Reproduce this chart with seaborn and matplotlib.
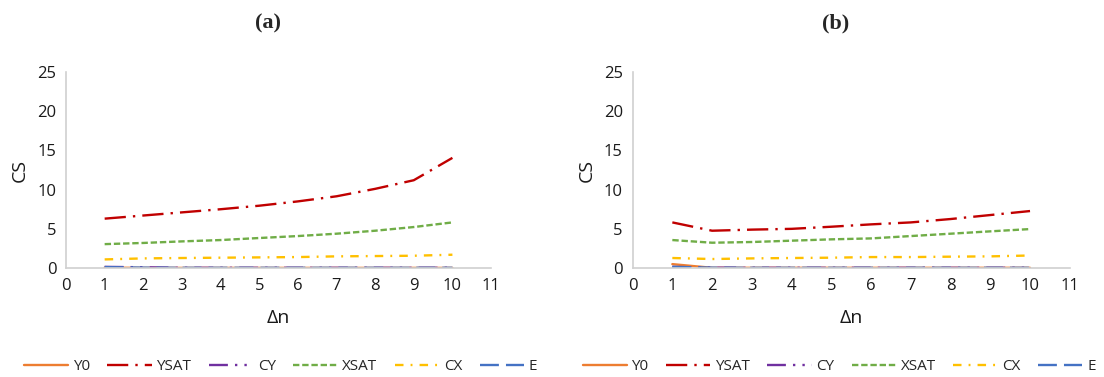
import numpy as np
import pandas as pd
import matplotlib
matplotlib.use("Agg")
import matplotlib.pyplot as plt
import seaborn as sns

# Data
dn = [1, 2, 3, 4, 5, 6, 7, 8, 9, 10]
series = ["Y0", "YSAT", "CY", "XSAT", "CX", "E"]

a_y0 = [0.05, 0.02, 0.02, 0.02, 0.02, 0.02, 0.02, 0.02, 0.02, 0.02]
a_ysat = [6.3, 6.7, 7.1, 7.5, 7.95, 8.5, 9.15, 10.1, 11.2, 14.05]
a_cy = [0.15, 0.1, 0.03, 0.03, 0.03, 0.03, 0.03, 0.03, 0.03, 0.03]
a_xsat = [3.05, 3.2, 3.4, 3.57, 3.83, 4.08, 4.38, 4.76, 5.23, 5.82]
a_cx = [1.1, 1.23, 1.28, 1.32, 1.36, 1.4, 1.49, 1.53, 1.57, 1.7]
a_e = [0.12, 0.05, 0.03, 0.03, 0.03, 0.03, 0.03, 0.03, 0.03, 0.03]

b_y0 = [0.5, 0.03, 0.03, 0.03, 0.03, 0.03, 0.03, 0.03, 0.03, 0.03]
b_ysat = [5.82, 4.76, 4.9, 5.0, 5.27, 5.57, 5.82, 6.25, 6.76, 7.27]
b_cy = [0.15, 0.05, 0.03, 0.03, 0.03, 0.03, 0.03, 0.03, 0.03, 0.03]
b_xsat = [3.57, 3.23, 3.32, 3.49, 3.66, 3.78, 4.08, 4.38, 4.68, 4.97]
b_cx = [1.28, 1.15, 1.23, 1.28, 1.32, 1.4, 1.4, 1.45, 1.49, 1.6]
b_e = [0.15, 0.05, 0.03, 0.03, 0.03, 0.03, 0.03, 0.03, 0.03, 0.03]

palette = {"Y0": "#ED7D31", "YSAT": "#C00000", "CY": "#7030A0",
           "XSAT": "#70AD47", "CX": "#FFC000", "E": "#4472C4"}
dashes = {"Y0": "", "YSAT": (9, 3, 1, 3), "CY": (8, 3, 1, 3, 1, 3),
          "XSAT": (2.7, 1.2), "CX": (3.6, 3, 0.8, 3), "E": (8, 3)}


def long_df(vals):
    rows = []
    for name, v in zip(series, vals):
        for x, y in zip(dn, v):
            rows.append({"dn": x, "CS": y, "series": name})
    return pd.DataFrame(rows)


df_a = long_df([a_y0, a_ysat, a_cy, a_xsat, a_cx, a_e])
df_b = long_df([b_y0, b_ysat, b_cy, b_xsat, b_cx, b_e])

sns.set_style("white")
plt.rcParams["font.family"] = ["Open Sans", "DejaVu Sans"]

fig = plt.figure(figsize=(11.04, 3.77), dpi=100)
ax_a = fig.add_axes([0.0598, 0.289, 0.385, 0.520])
ax_b = fig.add_axes([0.573, 0.289, 0.396, 0.520])

panels = [(ax_a, df_a, "(a)", 0.475, 0.254), (ax_b, df_b, "(b)", 0.465, 0.760)]
for ax, df, title, tx, lx in panels:
    sns.lineplot(data=df, x="dn", y="CS", hue="series", style="series",
                 hue_order=series, style_order=series,
                 palette=palette, dashes=dashes, linewidth=1.7,
                 ax=ax, legend=True)
    ax.set_xlim(0, 11)
    ax.set_ylim(0, 25)
    ax.set_xticks(range(0, 12))
    ax.set_yticks(range(0, 26, 5))
    ax.tick_params(labelsize=12, colors="#1a1a1a", length=0, pad=7)
    for s in ["top", "right"]:
        ax.spines[s].set_visible(False)
    for s in ["left", "bottom"]:
        ax.spines[s].set_color("#D0D0D0")
        ax.spines[s].set_linewidth(1.2)
    ax.set_xlabel("Δn", fontsize=14, labelpad=11, color="#1a1a1a")
    ax.set_ylabel("CS", fontsize=14, labelpad=6, color="#1a1a1a")
    ax.set_title(title, fontsize=16, fontweight="bold", x=tx,
                 family="Liberation Serif", pad=31)
    handles, labels = ax.get_legend_handles_labels()
    ax.get_legend().remove()
    fig.legend(handles, labels, loc="center", bbox_to_anchor=(lx, 0.027),
               ncol=6, frameon=False, fontsize=11, handlelength=2.9,
               columnspacing=1.15, handletextpad=0.3)

fig.savefig("out.png", dpi=100)
